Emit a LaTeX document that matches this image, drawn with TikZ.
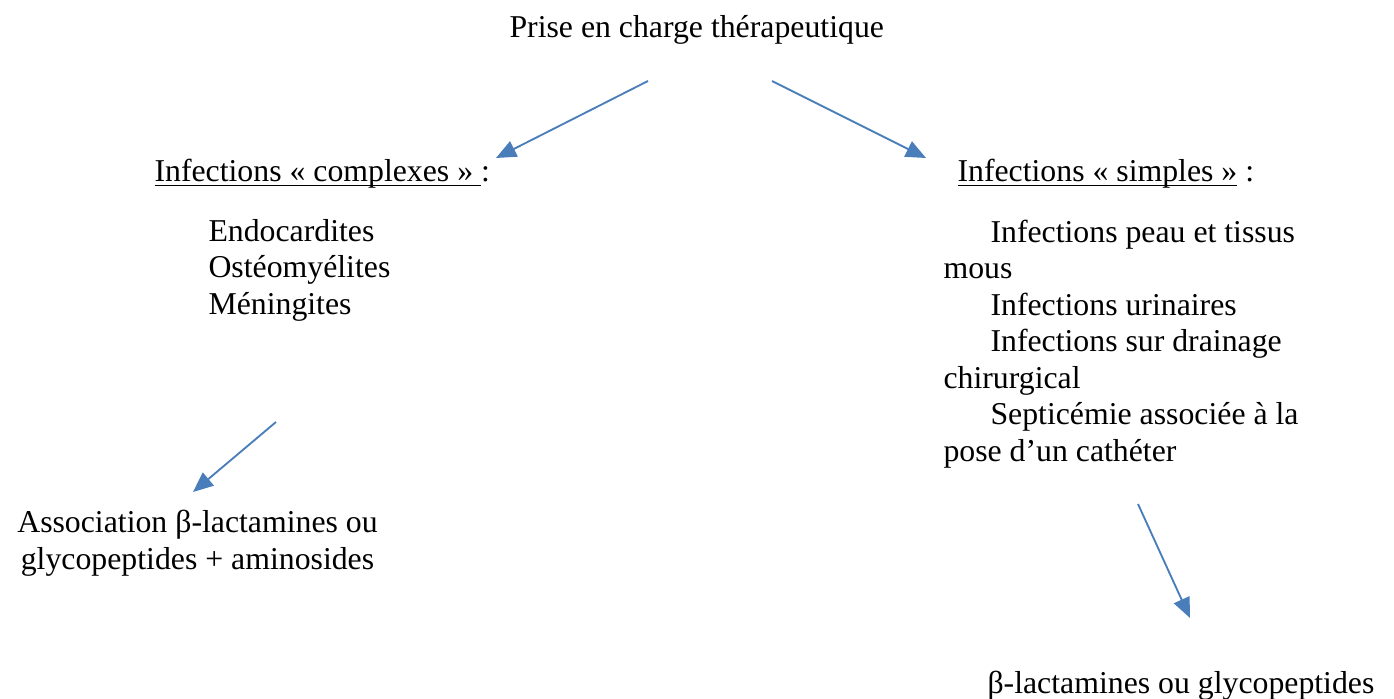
\documentclass[tikz,border=0pt]{standalone}
\usepackage{fontspec}
\setmainfont{Liberation Serif}
\usetikzlibrary{arrows.meta}
\definecolor{arrowblue}{HTML}{4A7EBB}
\newcommand\myul[1]{\setbox0\hbox{#1}\rlap{\rule[-1.6pt]{\wd0}{0.6pt}}\box0\relax}
\begin{document}
\begin{tikzpicture}[x=0.3776pt,y=-0.3776pt,
  txt/.style={anchor=base west, inner sep=0pt, font=\fontsize{12}{13.8}\selectfont},
  ctxt/.style={anchor=base, inner sep=0pt, font=\fontsize{12}{13.8}\selectfont},
  arr/.style={draw=arrowblue, line width=0.7pt, -{Triangle[length=7.6pt,width=6.4pt]}, color=arrowblue}]
\useasboundingbox (0,0) rectangle (1394,699);
% title
\node[txt] (title) at (509,37.5) {Prise en charge thérapeutique};
% headings
\node[txt] (cx) at (154,182) {\myul{Infections « complexes » }:};
\node[txt] (sp) at (957,182) {\myul{Infections « simples »} :};
% left list
\node[txt] (l1) at (208,241.5) {Endocardites};
\node[txt] (l2) at (208,278) {Ostéomyélites};
\node[txt] (l3) at (208,314.5) {Méningites};
% right list
\node[txt] (r1) at (990,242.5) {Infections peau et tissus};
\node[txt] (r2) at (943,279) {mous};
\node[txt] (r3) at (990,315.5) {Infections urinaires};
\node[txt] (r4) at (990,352) {Infections sur drainage};
\node[txt] (r5) at (943,388.5) {chirurgical};
\node[txt] (r6) at (990,425) {Septicémie associée à la};
\node[txt] (r7) at (943,461.5) {pose d’un cathéter};
% treatments
\node[ctxt] (t1a) at (197.5,532.5) {Association β-lactamines ou};
\node[ctxt] (t1b) at (197.5,569) {glycopeptides + aminosides};
\node[txt] (t2) at (987,693) {β-lactamines ou glycopeptides};
% arrow endpoints
\coordinate (a1s) at (648,81);
\coordinate (a1e) at (496,158);
\coordinate (a2s) at (772,81);
\coordinate (a2e) at (926,158);
\coordinate (a3s) at (276,422);
\coordinate (a3e) at (193,492);
\coordinate (a4s) at (1138,504);
\coordinate (a4e) at (1190,618);
\draw[arr] (a1s) -- (a1e);
\draw[arr] (a2s) -- (a2e);
\draw[arr] (a3s) -- (a3e);
\draw[arr] (a4s) -- (a4e);
\end{tikzpicture}
\end{document}
